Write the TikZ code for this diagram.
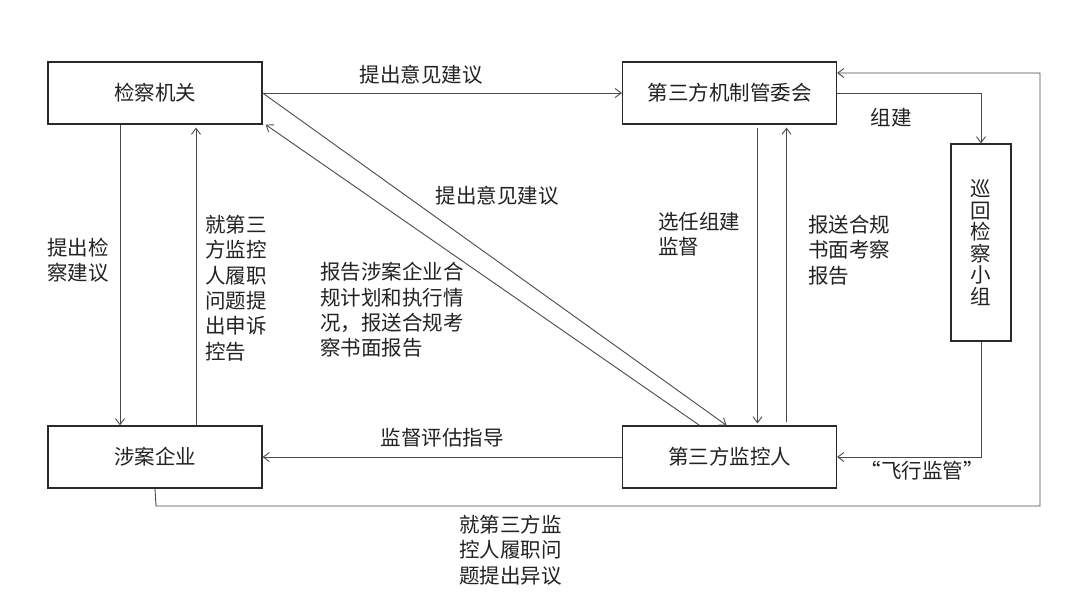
\documentclass[tikz,border=0pt]{standalone}
\usepackage{fontspec}
\setmainfont{Noto Sans CJK SC}
\usetikzlibrary{arrows.meta,calc}
\definecolor{boxc}{HTML}{2A2A2A}
\definecolor{linec}{HTML}{4A4A4A}
\definecolor{txt}{HTML}{222222}
\newcommand\dgfs{\fontsize{20.5}{25.4}\selectfont}
\begin{document}
\begin{tikzpicture}[x=1pt,y=-1pt,
  box/.style={draw=boxc, line width=1.3pt, minimum width=214pt, minimum height=62pt, inner sep=0pt, font=\dgfs, text=txt},
  conn/.style={draw=linec, line width=0.9pt},
  arr/.style={conn, -{Straight Barb[length=6pt,width=9pt]}},
  lbl/.style={font=\dgfs, text=txt, inner sep=0pt, align=left},
]
\useasboundingbox[fill=white] (0,0) rectangle (1080,615);

% boxes
\node[box] (jc) at (155,93) {检察机关};
\node[box] (gw) at (729.5,93) {第三方机制管委会};
\node[box] (sa) at (155,457) {涉案企业};
\node[box] (jk) at (729.5,457) {第三方监控人};
\node[box, minimum width=60pt, minimum height=197pt, align=center, font=\fontsize{20.5}{21.5}\selectfont] (xh) at (981,242.5) {巡\\回\\检\\察\\小\\组};

\coordinate (loopa) at (156,506);
\coordinate (loopb) at (1040,506);
\coordinate (loopc) at ($(gw.east)+(0,-20)$);

% connectors
\draw[arr] (jc.east) -- (gw.west);
\draw[arr] (jc.east) -- ($(jk.north)+(-3,0)$);
\draw[arr] ($(jk.north)+(-30,0)$) -- ($(jc.south east)+(3,0)$);
\draw[arr] ($(gw.south)+(28,3)$) -- ($(jk.north)+(28,-2)$);
\draw[arr] ($(jk.north)+(57,-3)$) -- ($(gw.south)+(57,3)$);
\draw[arr] ($(jc.south)+(-35,0)$) -- ($(sa.north)+(-35,0)$);
\draw[arr] ($(sa.north)+(41,0)$) -- ($(jc.south)+(41,3)$);
\draw[arr] (jk.west) -- (sa.east);
\draw[arr] (gw.east) -| (xh.north);
\draw[arr] (xh.south) |- (jk.east);
\draw[arr] (sa.south) -- (loopa) -- (loopb) |- (loopc);

% labels
\node[lbl] (l1) at (421,75) {提出意见建议};
\node[lbl] (l2) at (497,196) {提出意见建议};
\node[lbl, anchor=west] (l3) at (47,260) {提出检\\察建议};
\node[lbl, anchor=west] (l4) at (205,288) {就第三\\方监控\\人履职\\问题提\\出申诉\\控告};
\node[lbl, anchor=west] (l5) at (320,310) {报告涉案企业合\\规计划和执行情\\况，报送合规考\\察书面报告};
\node[lbl, anchor=west] (l6) at (658,234) {选任组建\\监督};
\node[lbl, anchor=west] (l7) at (808,250) {报送合规\\书面考察\\报告};
\node[lbl] (l8) at (891,118) {组建};
\node[lbl] (l9) at (442,438) {监督评估指导};
\node[lbl] (l10) at (922,471) {“飞行监管”};
\node[lbl, anchor=west] (l11) at (459,550) {就第三方监\\控人履职问\\题提出异议};
\end{tikzpicture}
\end{document}
